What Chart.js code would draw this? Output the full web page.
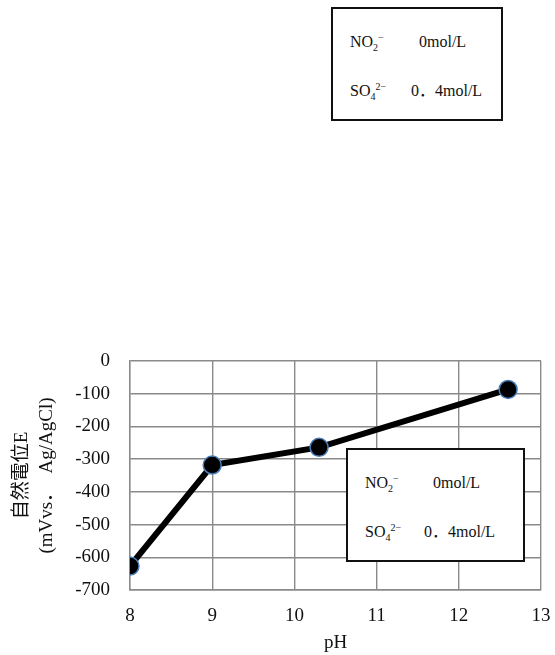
<!DOCTYPE html>
<html>
<head>
<meta charset="utf-8">
<script src="https://cdn.jsdelivr.net/npm/chart.js@4"></script>
<style>
  body { margin: 0; background: #fff; }
  #wrap { position: relative; width: 555px; height: 655px; }
  .note {
    position: absolute; box-sizing: border-box; height: 114px;
    border: 2px solid #111; background: #fff;
    font-family: "Liberation Serif", "Noto Sans CJK JP", serif; font-size: 16px; color: #111;
  }
  .note .ln { position: absolute; left: 0; right: 0; height: 20px; line-height: 20px; }
  .note .ln span { position: absolute; top: 0; white-space: nowrap; }
  .note sub, .note sup { font-size: 10px; line-height: 0; }
</style>
</head>
<body>
<div id="wrap">
  <canvas id="chart"></canvas>
</div>
<script>
const phValues = [8, 9, 10.3, 12.6];
const potentials = [-627, -318, -264, -87];
const yTitle = ["自然電位E", "(mVvs．　Ag/AgCl)"];
const xTitle = "pH";
const ions = ["NO<sub>2</sub><sup>−</sup>", "SO<sub>4</sub><sup>2−</sup>"];
const concentrations = ["0mol/L", "0．4mol/L"];

// 凡例ボックス (上と図中の2つ)
function addNote(left, top, width, concLeft) {
  const box = document.createElement("div");
  box.className = "note";
  box.style.left = left + "px";
  box.style.top = top + "px";
  box.style.width = width + "px";
  ions.forEach((ion, i) => {
    const ln = document.createElement("div");
    ln.className = "ln";
    ln.style.top = (i === 0 ? 23 : 72) + "px";
    ln.innerHTML = `<span style="left:17px">${ion}</span><span style="left:${concLeft[i]}px">${concentrations[i]}</span>`;
    box.appendChild(ln);
  });
  document.getElementById("wrap").appendChild(box);
}
addNote(331, 7, 172, [86, 78]);
addNote(346, 448, 179, [85, 76]);

const font = { family: '"Liberation Serif", "Noto Sans CJK JP", serif', size: 19 };
const gridColor = "#8a8a8a";

new Chart(document.getElementById("chart"), {
  type: "line",
  data: {
    datasets: [{
      data: phValues.map((x, i) => ({ x, y: potentials[i] })),
      borderColor: "#000",
      borderWidth: 6,
      pointRadius: 9,
      pointBackgroundColor: "#000",
      pointBorderColor: "#4a7ebb",
      pointBorderWidth: 1.5,
      tension: 0,
    }],
  },
  options: {
    responsive: true,
    maintainAspectRatio: false,
    animation: false,
    layout: { padding: { top: 361, right: 14, left: 0, bottom: 0 } },
    plugins: { legend: { display: false }, tooltip: { enabled: false } },
    scales: {
      x: {
        type: "linear", min: 8, max: 13,
        ticks: { stepSize: 1, color: "#111", font, padding: 15 },
        grid: { color: gridColor, lineWidth: 1.4, drawTicks: false },
        border: { color: gridColor, width: 1.4 },
        title: { display: true, text: xTitle, color: "#111", font, padding: { top: 0, bottom: 1 } },
        afterFit: (s) => { s.height = 65; s.paddingLeft = 0; s.paddingRight = 14; },
      },
      y: {
        min: -700, max: 0,
        ticks: { stepSize: 100, color: "#111", font, padding: 20 },
        grid: { color: gridColor, lineWidth: 1.4, drawTicks: false },
        border: { color: gridColor, width: 1.4 },
        title: { display: true, text: yTitle, color: "#111", font: { ...font, size: 19, lineHeight: 1.32 }, padding: { top: 9, bottom: 0 } },
        afterFit: (s) => { s.width = 130; s.paddingTop = 0; s.paddingBottom = 0; },
      },
    },
  },
});
</script>
</body>
</html>
